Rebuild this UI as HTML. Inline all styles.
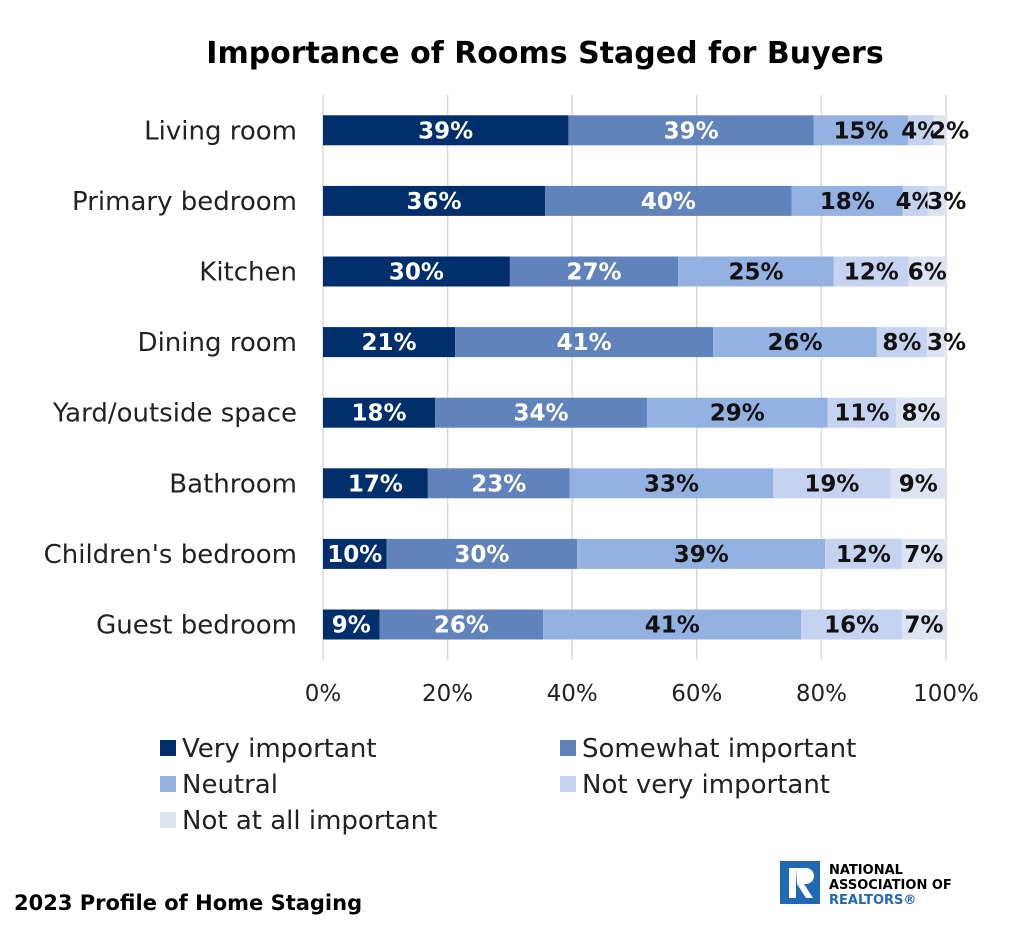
<!DOCTYPE html>
<html><head><meta charset="utf-8"><style>
body{margin:0;background:#fff;width:1024px;height:921px;overflow:hidden;font-family:"DejaVu Sans","Liberation Sans",sans-serif}
</style></head><body>
<svg width="1024" height="921" xmlns="http://www.w3.org/2000/svg" id="chart" font-family="DejaVu Sans, Liberation Sans, sans-serif">
<text x="545" y="63" text-anchor="middle" font-size="30" font-weight="bold">Importance of Rooms Staged for Buyers</text>
<g id="grid"></g><g id="bars"></g><g id="cats"></g><g id="ticks"></g><g id="legend"></g>
<text x="14" y="910" font-size="21" font-weight="bold">2023 Profile of Home Staging</text>
<g>
<rect x="780" y="861" width="40" height="43" fill="#1f69b5"/>
<rect x="789" y="868" width="7" height="30" fill="#fff"/>
<path d="M796 868 h10 a8 8 0 0 1 0 16 h-2 l9 14 h-7 l-9 -14 z" fill="#fff"/>
<text x="829" y="874" font-size="13" font-weight="bold">NATIONAL</text>
<text x="829" y="889" font-size="13" font-weight="bold">ASSOCIATION OF</text>
<text x="829" y="904" font-size="13" font-weight="bold" fill="#1f69b5">REALTORS®</text>
</g>
</svg>
<script>
const categories=["Living room","Primary bedroom","Kitchen","Dining room","Yard/outside space","Bathroom","Children's bedroom","Guest bedroom"];
const seriesNames=["Very important","Somewhat important","Neutral","Not very important","Not at all important"];
const veryImportant=[39,36,30,21,18,17,10,9];
const somewhatImportant=[39,40,27,41,34,23,30,26];
const neutral=[15,18,25,26,29,33,39,41];
const notVery=[4,4,12,8,11,19,12,16];
const notAtAll=[2,3,6,3,8,9,7,7];
const tickValues=[0,20,40,60,80,100];
const series=[veryImportant,somewhatImportant,neutral,notVery,notAtAll];
const colors=["#002f6c","#6083bb","#93b2e2","#c3d3f0","#dce3f2"];
const textColors=["#fff","#fff","#111","#111","#111"];
const NS="http://www.w3.org/2000/svg";
const x0=323,x1=946,y0=95,rowH=70.6,barH=30;
const xs=v=>x0+(x1-x0)*v/100;
const yc=i=>y0+rowH*(i+0.5);
function mk(tag,attrs,parent,txt){const e=document.createElementNS(NS,tag);for(const k in attrs)e.setAttribute(k,attrs[k]);if(txt!==undefined)e.textContent=txt;parent.appendChild(e);return e;}
const grid=document.getElementById('grid'),bars=document.getElementById('bars'),cats=document.getElementById('cats'),ticks=document.getElementById('ticks'),legend=document.getElementById('legend');
tickValues.forEach(t=>{
 const l=mk('line',{x1:xs(t),x2:xs(t),y1:y0,y2:660,stroke:'#d9d9d9','stroke-width':1.5},grid);
 
 
 const tx=mk('text',{x:xs(t),y:701,'text-anchor':'middle','font-size':23,fill:'#222'},ticks,t+'%');
 
 
});
categories.forEach((c,i)=>{
 const t=mk('text',{x:297,y:yc(i)+9,'text-anchor':'end','font-size':26,fill:'#222'},cats,c);
 
 
 const total=series.reduce((a,s)=>a+s[i],0);
 let acc=0;
 series.forEach((s,j)=>{
  const v=s[i]*100/total;
  const r=mk('rect',{x:xs(acc),y:yc(i)-barH/2,width:xs(acc+v)-xs(acc),height:barH,fill:colors[j]},bars);
  
  
  let cx=(xs(acc)+xs(acc+v))/2;
  if(j===4&&s[i]<4)cx+=10;
  const lb=mk('text',{x:cx,y:yc(i)+8,'text-anchor':'middle','font-size':23,'font-weight':'bold',fill:textColors[j]},bars,s[i]+'%');
  
  
  acc+=v;
 });
});
seriesNames.forEach((n,j)=>{
 const lx=j%2===0?160:560,ly=748+36*Math.floor(j/2);
 const g=mk('g',{},legend);
 
 
 mk('rect',{x:lx,y:ly-8,width:16,height:16,fill:colors[j]},g);
 mk('text',{x:lx+22,y:ly+9,'font-size':26,fill:'#222'},g,n);
});
</script>
</body></html>
